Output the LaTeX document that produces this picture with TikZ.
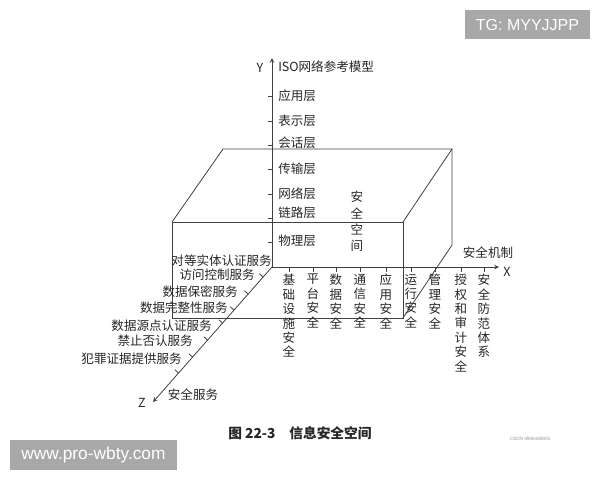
\documentclass[tikz,border=0pt]{standalone}
\usepackage{fontspec}
\usepackage{tikz}
\usetikzlibrary{arrows}
\newfontfamily\cjkfont{Noto Sans CJK SC}
\newfontfamily\wmfont{Liberation Sans}

\begin{document}
\begin{tikzpicture}[x=0.75pt, y=-0.75pt,
                    edge/.style={draw=black!75, line width=0.6pt},
                    lbl/.style={font=\cjkfont\fontsize{9.4}{10.8}\selectfont, text=black!85, inner sep=0pt},
                    col/.style={lbl, anchor=north, align=center},
                    wm/.style={fill=black!34, text=white, inner sep=0pt}]
                    \useasboundingbox (0,0) rectangle (600,480);

                    % axes
                    \coordinate (O) at (272,267);
                    \coordinate (Yend) at (272,58);
                    \coordinate (Xend) at (499,267);
                    \coordinate (Zend) at (153,402);

                    % box
                    \coordinate (FTL) at (172,222);
                    \coordinate (FTR) at (403,222);
                    \coordinate (FBR) at (403,318);
                    \coordinate (FBL) at (172,318);
                    \coordinate (BTL) at (223,149);
                    \coordinate (BTR) at (452,149);
                    \coordinate (BBR) at (452,245);

                    \draw[edge] (FTL) -- (FTR) -- (FBR) -- (FBL) -- cycle;
                    \draw[edge] (FTL) -- (BTL) -- (BTR) -- (FTR);
                    \draw[edge] (BTR) -- (BBR) -- (FBR);

                    \draw[edge, -stealth] (O) -- (Yend);
                    \draw[edge, -stealth] (O) -- (Xend);
                    \draw[edge, -stealth] (O) -- coordinate[pos=0.074] (z1) coordinate[pos=0.2] (z2)
                        coordinate[pos=0.319] (z3) coordinate[pos=0.415] (z4) coordinate[pos=0.541] (z5)
                        coordinate[pos=0.667] (z6) coordinate[pos=0.785] (z7) (Zend);

                    % ticks on Y
                    \coordinate (y1) at (272,96);
                    \coordinate (y2) at (272,121);
                    \coordinate (y3) at (272,145);
                    \coordinate (y4) at (272,169);
                    \coordinate (y5) at (272,194);
                    \coordinate (y6) at (272,218);
                    \coordinate (y7) at (272,242);
                    \draw[edge] (y1) -- ++(-4,0);
                    \draw[edge] (y2) -- ++(-4,0);
                    \draw[edge] (y3) -- ++(-4,0);
                    \draw[edge] (y4) -- ++(-4,0);
                    \draw[edge] (y5) -- ++(-4,0);
                    \draw[edge] (y6) -- ++(-4,0);
                    \draw[edge] (y7) -- ++(-4,0);

                    % ticks on X
                    \coordinate (x1) at (289,267);
                    \coordinate (x2) at (313,267);
                    \coordinate (x3) at (336,267);
                    \coordinate (x4) at (360,267);
                    \coordinate (x5) at (386,267);
                    \coordinate (x6) at (411,267);
                    \coordinate (x7) at (435,267);
                    \coordinate (x8) at (461,267);
                    \coordinate (x9) at (484,267);
                    \draw[edge] (x1) -- ++(0,5);
                    \draw[edge] (x2) -- ++(0,5);
                    \draw[edge] (x3) -- ++(0,5);
                    \draw[edge] (x4) -- ++(0,5);
                    \draw[edge] (x5) -- ++(0,5);
                    \draw[edge] (x6) -- ++(0,5);
                    \draw[edge] (x7) -- ++(0,5);
                    \draw[edge] (x8) -- ++(0,5);
                    \draw[edge] (x9) -- ++(0,5);

                    % ticks on Z
                    \draw[edge] (z1) -- ++(-3.8,-3.3);
                    \draw[edge] (z2) -- ++(-3.8,-3.3);
                    \draw[edge] (z3) -- ++(-3.8,-3.3);
                    \draw[edge] (z4) -- ++(-3.8,-3.3);
                    \draw[edge] (z5) -- ++(-3.8,-3.3);
                    \draw[edge] (z6) -- ++(-3.8,-3.3);
                    \draw[edge] (z7) -- ++(-3.8,-3.3);

                    % Y labels
                    \node[lbl] (Ylab) at (260,68) {Y};
                    \node[lbl, anchor=west] (iso) at (278,67) {ISO网络参考模型};
                    \node[lbl, anchor=west] (app) at (278,96) {应用层};
                    \node[lbl, anchor=west] (pres) at (278,121) {表示层};
                    \node[lbl, anchor=west] (sess) at (278,143) {会话层};
                    \node[lbl, anchor=west] (trans) at (278,169) {传输层};
                    \node[lbl, anchor=west] (net) at (278,194) {网络层};
                    \node[lbl, anchor=west] (link) at (278,213) {链路层};
                    \node[lbl, anchor=west] (phys) at (278,241) {物理层};
                    \node[lbl, anchor=north, align=center, font=\cjkfont\fontsize{9.4}{12.2}\selectfont] (space) at (357,191) {安\\全\\空\\间};

                    % X labels
                    \node[lbl] (Xlab) at (507,272) {X};
                    \node[lbl] (mech) at (488,253) {安全机制};
                    \node[col] (infra) at (289,274) {基\\础\\设\\施\\安\\全};
                    \node[col] (plat) at (313,274) {平\\台\\安\\全};
                    \node[col] (data) at (336,274) {数\\据\\安\\全};
                    \node[col] (comm) at (360,274) {通\\信\\安\\全};
                    \node[col] (appsec) at (386,274) {应\\用\\安\\全};
                    \node[col] (oper) at (411,274) {运\\行\\安\\全};
                    \node[col] (mgmt) at (435,274) {管\\理\\安\\全};
                    \node[col] (audit) at (461,274) {授\\权\\和\\审\\计\\安\\全};
                    \node[col] (prev) at (484,274) {安\\全\\防\\范\\体\\系};

                    % Z labels
                    \node[lbl] (Zlab) at (142,403) {Z};
                    \node[lbl] (serv) at (193,395) {安全服务};
                    \node[lbl, anchor=east] (peer) at (272,261) {对等实体认证服务};
                    \node[lbl, anchor=east] (access) at (255,275) {访问控制服务};
                    \node[lbl, anchor=east] (conf) at (238,292) {数据保密服务};
                    \node[lbl, anchor=east] (integ) at (228,308) {数据完整性服务};
                    \node[lbl, anchor=east] (origin) at (212,326) {数据源点认证服务};
                    \node[lbl, anchor=east] (nonrep) at (193,341) {禁止否认服务};
                    \node[lbl, anchor=east] (evid) at (182,359) {犯罪证据提供服务};

                    % caption and marks
                    \node[lbl, font=\cjkfont\bfseries\fontsize{10.3}{12}\selectfont] (cap) at (300,433) {图 22-3\quad 信息安全空间};
                    \node[lbl, font=\wmfont\fontsize{3.5}{4}\selectfont, text=black!40] (csdn) at (530,439) {CSDN 9998489905};
                    \node[wm, minimum width=93.75pt, minimum height=21.75pt, font=\wmfont\fontsize{12}{14}\selectfont] (tg) at (527.5,24.5) {TG: MYYJJPP};
                    \node[wm, minimum width=125.25pt, minimum height=22.5pt, font=\wmfont\fontsize{13}{15}\selectfont] (site) at (93.5,455) {www.pro-wbty.com};
                \end{tikzpicture}
\end{document}
